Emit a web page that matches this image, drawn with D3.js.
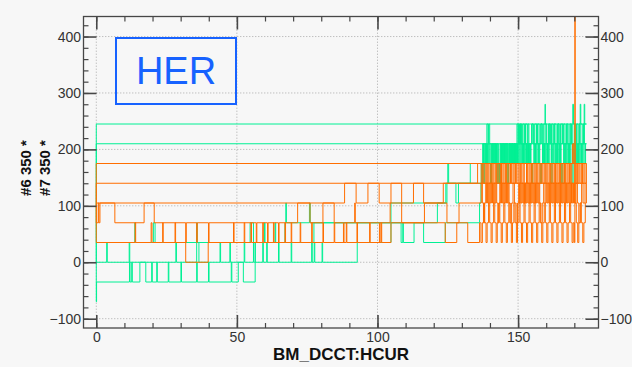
<!DOCTYPE html>
<html>
<head>
<meta charset="utf-8">
<script src="https://cdn.jsdelivr.net/npm/d3@7"></script>
<style>
  html, body { margin: 0; padding: 0; background: #f7f7f7; }
  svg { display: block; }
</style>
</head>
<body>
<svg id="chart" width="632" height="367"></svg>
<script>
// ---- Data: beam current (BM_DCCT:HCUR) vs. quantised loss counts, one array per fill ----
// Each fill is a time-ordered list of [HCUR, value] samples; fills follow one another,
// so the current drops back to zero between them.

// #7 350 * (green)
const greenFill1 = [
  [0,35],[13.7,70],[13.9,35],[20.3,70],[20.9,35],[35.7,70],[35.9,35],[54.7,70],[55.9,35],
  [59.8,70],[60.0,35],[63.6,70],[63.8,35],[67.1,70],[67.4,105],[67.6,70],[75.8,105],[76.1,70],
  [104.8,105],[124.3,140],[125.0,175],[125.3,140],[127.9,105],[128.8,140],[133.0,175],
  [137.7,210],[138.2,175],[138.9,245],[139.3,210],[140.0,175],[140.5,210],[141.0,175],[141.4,210],
  [141.9,175],[142.4,210],[142.6,140],[143.2,175],[143.7,210],[144.2,175],[144.7,210],[145.2,175],
  [145.7,210],[146.2,175],[146.7,210],[147.2,175],[147.7,210],[148.2,175],[148.6,210],[149.0,175],
  [149.3,210],[149.6,245],[150.1,210],[150.6,245],[151.1,210],[151.7,245],[152.2,210],[152.7,245],
  [153.3,210],[153.8,175],[154.3,210],[154.8,245],[155.4,210],[155.9,245],[156.5,210],[157.0,245],
  [157.5,210],[158.1,245],[158.6,210],[159.1,245],[159.6,280],[159.7,245],[160.2,210],[160.8,245],
  [161.3,210],[161.9,245],[162.4,210],[162.9,245],[163.5,210],[164.0,245],[164.6,210],[165.1,245],
  [165.7,210],[166.2,245],[166.7,210],[167.3,245],[167.8,210],[168.4,245],[168.9,210],[169.45,280],
  [169.7,245],[170.2,210],[170.8,245],[171.3,210],[171.8,245],[172.1,280],[172.3,245],[172.8,210],
  [173.3,245],[173.5,280],[173.7,245],[174.3,245]
];
const greenFill2 = [
  [0,-70],[0.1,-35],[11.8,0],[12.0,-35],[12.6,0],[12.8,-35],[15.5,0],[17.6,-35],[19.7,0],[19.9,-35],
  [21.5,0],[21.7,-35],[25.6,0],[25.8,-35],[30.1,0],[30.3,-35],[35.7,0],[35.9,-35],[39.9,0],[40.1,-35],
  [48.0,0],[48.2,-35],[50.5,0],[52.3,-35],[56.5,0],[59.2,35],[59.4,0],[60.6,35],[60.8,0],[64.8,35],
  [65.0,0],[69.3,35],[69.5,0],[76.6,35],[76.8,0],[77.5,35],[77.7,0],[80.3,35],[80.5,0],[92.8,35],
  [104.8,70],[108.4,35],[109.0,70],[109.2,35],[113.0,70],[116.4,35],[124.1,70],[136.3,105],
  [136.8,140],[137.2,175],[137.6,140],[138.1,175],[138.5,210],[138.9,175],[139.4,210],[139.7,175],
  [140.2,140],[140.6,175],[141.0,210],[141.5,175],[141.9,210],[142.3,175],[142.8,140],[143.2,175],
  [143.6,210],[144.1,175],[144.5,210],[144.9,175],[145.4,210],[145.8,175],[146.3,140],[146.6,175],
  [147.0,210],[147.4,175],[147.9,210],[148.3,175],[148.6,210],[148.9,175],[149.2,210],[149.5,175],
  [149.8,210],[150.1,175],[150.4,210],[150.7,175],[151.0,210],[151.3,175],[151.6,210],[151.9,175],
  [152.2,210],[152.5,175],[152.8,210],[153.1,175],[153.4,210],[153.7,175],[154.0,210],[154.4,175],
  [154.8,140],[155.2,175],[155.6,210],[156.0,175],[156.4,210],[156.7,175],[157.1,210],[157.5,175],
  [157.9,140],[158.3,175],[158.7,210],[159.0,175],[159.4,210],[159.8,175],[160.2,210],[160.5,175],
  [160.9,210],[161.3,175],[161.7,140],[162.1,175],[162.5,210],[162.8,175],[163.2,210],[163.6,175],
  [164.0,210],[164.3,175],[164.7,210],[165.1,175],[165.5,140],[165.9,175],[166.2,210],[166.6,175],
  [167.0,210],[167.3,175],[167.7,210],[168.1,175],[168.5,210],[168.8,175],[169.2,140],[169.6,175],
  [170.0,210],[170.4,175],[170.7,210],[171.1,175],[171.5,210],[171.9,175],[172.3,210],[172.6,175],
  [173.0,210],[173.4,175],[173.8,210],[174.3,210]
];
const greenFill3 = [
  [0,0],[3.7,35],[3.9,0],[11.7,35],[11.9,0],[28.3,35],[28.5,0],[35.7,35],[36.5,0],[44.0,35],[44.2,0],
  [47.5,35],[47.7,0],[52.6,35],[52.8,0],[55.9,35],[56.1,0],[56.6,35],[77.4,70],[121.3,105],
  [124.7,140],[136.9,175],[137.4,210],[137.9,175],[138.3,210],[138.7,175],[139.1,210],[139.5,245],
  [139.9,210],[140.4,175],[140.8,210],[141.2,175],[141.7,210],[142.1,175],[142.5,210],[143.0,175],
  [143.4,140],[143.8,175],[144.3,210],[144.7,175],[145.1,210],[145.6,175],[146.0,210],[146.4,175],
  [146.8,210],[147.2,175],[147.6,210],[148.0,175],[148.45,210],[148.75,175],[149.05,210],[149.35,175],
  [149.65,210],[149.95,245],[150.25,210],[150.55,245],[150.85,210],[151.15,245],[151.45,210],
  [151.75,175],[152.05,210],[152.35,245],[152.65,210],[152.95,175],[153.25,210],[153.55,245],
  [153.85,210],[154.2,175],[154.6,210],[155.0,245],[155.4,210],[155.8,175],[156.2,210],[156.55,245],
  [156.9,210],[157.3,175],[157.7,210],[158.1,245],[158.5,210],[158.85,175],[159.2,210],[159.6,245],
  [160.0,210],[160.4,175],[160.7,210],[161.1,245],[161.5,210],[161.9,175],[162.3,210],[162.7,245],
  [163.0,210],[163.4,175],[163.8,210],[164.2,245],[164.5,210],[164.9,175],[165.3,210],[165.7,245],
  [166.0,210],[166.4,175],[166.8,210],[167.2,245],[167.5,210],[167.9,175],[168.3,210],[168.7,245],
  [169.0,210],[169.4,175],[169.8,210],[170.2,245],[170.6,210],[170.9,175],[171.3,210],[171.7,245],
  [172.1,210],[172.5,175],[172.8,210],[173.2,245],[173.6,210],[174.0,175],[174.3,175]
];

// #6 350 * (orange)
const orangeFill1 = [
  [0,105],[88.3,140],[92.4,105],[96.6,140],[100.6,105],[104.8,140],[108.6,105],[112.8,140],
  [116.4,105],[123.4,140],[135.6,175],[136.9,140],[137.4,175],[137.8,140],[138.3,175],[138.7,140],
  [139.2,175],[139.6,140],[140.1,175],[140.5,140],[141.0,175],[141.4,140],[141.9,175],[142.3,140],
  [142.8,175],[143.2,140],[143.7,175],[144.1,140],[144.6,175],[145.0,140],[145.5,175],[145.9,140],
  [146.4,175],[146.8,140],[147.3,175],[147.7,140],[148.2,175],[148.6,140],[149.1,175],[149.5,140],
  [150.0,175],[150.4,140],[150.9,175],[151.3,140],[151.8,175],[152.2,105],[152.5,140],[153.0,175],
  [153.4,140],[153.9,175],[154.3,140],[154.8,175],[155.2,140],[155.7,175],[156.1,140],[156.6,175],
  [157.0,140],[157.5,175],[157.9,140],[158.4,175],[158.8,140],[159.3,175],[159.7,140],[160.2,175],
  [160.6,140],[161.1,175],[161.5,140],[162.0,175],[162.4,140],[162.9,175],[163.3,140],[163.8,175],
  [164.2,140],[164.7,175],[165.1,140],[165.6,175],[166.0,140],[166.5,175],[166.9,140],[167.4,175],
  [167.8,140],[168.3,175],[168.7,140],[169.1,175],[169.4,210],[169.8,175],[170.2,140],[170.7,175],
  [171.1,140],[171.6,175],[172.0,140],[172.5,175],[172.9,140],[173.4,175],[173.8,140],[174.3,175]
];
const orangeFill2 = [
  [0,35],[13.8,70],[14.0,35],[19.5,70],[19.8,35],[23.6,70],[23.8,35],[28.0,70],[28.2,35],[31.8,0],
  [39.8,35],[48.8,70],[49.0,35],[52.6,70],[52.8,35],[55.0,70],[55.2,35],[59.2,70],[59.4,35],
  [63.0,70],[63.2,35],[67.1,70],[67.3,35],[69.3,70],[69.5,35],[72.5,70],[72.7,35],[76.6,70],
  [76.8,35],[80.6,70],[80.8,35],[84.6,70],[84.8,35],[88.9,70],[89.1,35],[92.7,70],[92.9,35],
  [97.2,70],[97.4,35],[101.3,70],[101.5,35],[104.8,70],[124.1,35],[128.2,70],[132.1,35],[136.3,70],
  [136.8,35],[137.3,70],[137.7,105],[138.1,70],[138.6,35],[139.0,70],[139.5,105],[139.9,70],
  [140.4,35],[140.8,70],[141.3,105],[141.7,70],[142.2,35],[142.6,70],[143.1,105],[143.5,70],
  [144.0,35],[144.4,70],[144.9,105],[145.3,70],[145.8,35],[146.2,70],[146.7,105],[147.1,70],
  [147.6,35],[148.0,70],[148.5,105],[148.9,70],[149.4,35],[149.8,70],[150.3,105],[150.7,70],
  [151.2,35],[151.6,70],[152.1,105],[152.5,70],[153.0,35],[153.4,70],[153.9,105],[154.3,70],
  [154.8,35],[155.2,70],[155.7,105],[156.1,70],[156.6,35],[157.0,70],[157.5,105],[157.9,70],
  [158.4,35],[158.8,70],[159.3,105],[159.7,70],[160.2,35],[160.6,70],[161.1,105],[161.5,70],
  [162.0,35],[162.4,70],[162.9,105],[163.3,70],[163.8,35],[164.2,70],[164.7,105],[165.1,70],
  [165.6,35],[166.0,70],[166.5,105],[166.9,70],[167.4,35],[167.8,70],[168.3,105],[168.7,70],
  [169.2,35],[169.6,70],[170.0,35],[170.2,440],[170.3,105],[170.7,70],[171.2,35],[171.6,70],
  [172.1,105],[172.5,70],[173.0,35],[173.4,70],[173.9,105],[174.3,140]
];
const orangeFill3 = [
  [0,70],[0.7,105],[0.9,70],[1.3,105],[6.6,70],[17.0,105],[20.6,70],[31.8,35],[32.0,70],
  [35.7,35],[35.9,70],[39.9,35],[40.1,70],[56.9,35],[57.1,70],[60.9,35],[61.1,70],[64.8,35],
  [65.0,70],[71.6,105],[76.0,70],[80.6,105],[84.6,70],[87.9,35],[88.1,70],[91.9,105],[92.1,70],
  [100.7,35],[100.9,70],[104.5,105],[108.6,70],[116.7,105],[124.7,70],[129.0,105],[136.9,140],
  [137.3,105],[137.7,70],[138.1,105],[138.5,140],[138.8,105],[139.1,140],[139.4,105],[139.7,140],
  [140.0,105],[140.3,140],[140.6,105],[140.9,140],[141.2,105],[141.5,140],[141.8,105],[142.1,140],
  [142.4,105],[142.8,70],[143.2,105],[143.5,140],[143.8,105],[144.1,140],[144.4,105],[144.7,140],
  [145.0,105],[145.3,140],[145.6,105],[145.9,140],[146.2,105],[146.5,140],[146.8,105],[147.2,70],
  [147.7,105],[148.2,140],[148.7,105],[149.3,70],[149.8,105],[150.2,140],[150.5,105],[150.8,140],
  [151.1,105],[151.4,140],[151.7,105],[152.0,140],[152.3,105],[152.6,140],[152.9,105],[153.2,140],
  [153.5,105],[153.8,140],[154.1,105],[154.4,140],[154.7,105],[155.0,140],[155.3,105],[155.6,140],
  [155.9,105],[156.2,140],[156.5,105],[156.8,140],[157.1,105],[157.4,140],[157.7,105],[158.1,70],
  [158.6,105],[159.1,140],[159.6,105],[160.0,140],[160.3,105],[160.6,140],[160.9,105],[161.2,140],
  [161.5,105],[161.8,140],[162.1,105],[162.4,140],[162.7,105],[163.0,140],[163.3,105],[163.6,140],
  [163.9,105],[164.2,140],[164.5,105],[164.8,140],[165.1,105],[165.4,140],[165.7,105],[166.0,140],
  [166.3,105],[166.6,140],[166.9,105],[167.2,140],[167.5,105],[167.8,140],[168.1,105],[168.4,140],
  [168.7,105],[169.0,140],[169.3,105],[169.7,140],[170.1,105],[170.6,140],[171.1,105],[171.6,70],
  [172.1,105],[172.6,140],[173.1,105],[173.8,140]
];

const greenSeries  = [greenFill1, greenFill2, greenFill3];
const orangeSeries = [orangeFill1, orangeFill2, orangeFill3];

// Axis ticks and labels
const xMajorTicks = [0, 50, 100, 150];
const yMajorTicks = [-100, 0, 100, 200, 300, 400];
const xTitle = "BM_DCCT:HCUR";
const yTitleLines = ["#6 350 *", "#7 350 *"];
const tagText = "HER";

// ---- Layout ----
const svg = d3.select("#chart");
const plot = { left: 83.5, right: 598.5, top: 16.5, bottom: 328 };
const GREEN = "#00f094", ORANGE = "#ff6e00", BLUE = "#1762ff";
const AXIS = "#474747";
const tickFont = "'Liberation Sans', Arial, Helvetica, sans-serif";

const x = d3.scaleLinear().domain([-4.55, 178.6]).range([plot.left, plot.right]);
const y = d3.scaleLinear().domain([-116.5, 435.5]).range([plot.bottom, plot.top]);

svg.append("rect").attr("width", 632).attr("height", 367).attr("fill", "#f7f7f7");

svg.append("defs").append("clipPath").attr("id", "plotClip")
  .append("rect")
  .attr("x", plot.left).attr("y", plot.top)
  .attr("width", plot.right - plot.left).attr("height", plot.bottom - plot.top);

// Dotted grid, spanning the current range of the data horizontally
const allPoints = greenSeries.concat(orangeSeries).flat();
const xDataMax = d3.max(allPoints, d => d[0]);
const grid = svg.append("g").attr("stroke", "#a9a9a9").attr("stroke-width", 1)
  .attr("stroke-dasharray", "1,2");
grid.selectAll("line.h").data(yMajorTicks).join("line").attr("class", "h")
  .attr("x1", x(0)).attr("x2", x(xDataMax))
  .attr("y1", d => y(d)).attr("y2", d => y(d));
grid.selectAll("line.v").data(xMajorTicks).join("line").attr("class", "v")
  .attr("x1", d => x(d)).attr("x2", d => x(d))
  .attr("y1", y(yMajorTicks[0])).attr("y2", plot.top);

// Step traces
const stepLine = d3.line().x(d => x(d[0])).y(d => y(d[1])).curve(d3.curveStepAfter);
const traces = svg.append("g").attr("clip-path", "url(#plotClip)").attr("fill", "none");
traces.append("path").datum(greenSeries.flat())
  .attr("d", stepLine).attr("stroke", GREEN).attr("stroke-width", 1);
traces.append("path").datum(orangeSeries.flat())
  .attr("d", stepLine).attr("stroke", ORANGE).attr("stroke-width", 1);

// Axes: ticks point into the plot on all four sides
function styleAxis(g, major) {
  g.select(".domain").remove();
  g.selectAll("line").attr("stroke", AXIS).attr("stroke-width", major ? 1.6 : 1.2);
  g.selectAll("text").attr("fill", "#333").style("font-family", tickFont).style("font-size", "14px");
}
const yMinor = d3.range(-100, 436, 20);
const xMinor = d3.range(0, 179, 10);

svg.append("g").attr("transform", `translate(${plot.left},0)`)
  .call(d3.axisLeft(y).tickValues(yMinor).tickSize(-5).tickFormat("")).call(g => styleAxis(g, false));
svg.append("g").attr("transform", `translate(${plot.left},0)`)
  .call(d3.axisLeft(y).tickValues(yMajorTicks).tickSize(-13).tickPadding(2.5).tickFormat(d3.format("d")))
  .call(g => styleAxis(g, true));

svg.append("g").attr("transform", `translate(${plot.right},0)`)
  .call(d3.axisRight(y).tickValues(yMinor).tickSize(-5).tickFormat("")).call(g => styleAxis(g, false));
svg.append("g").attr("transform", `translate(${plot.right},0)`)
  .call(d3.axisRight(y).tickValues(yMajorTicks).tickSize(-13).tickPadding(2).tickFormat(d3.format("d")))
  .call(g => styleAxis(g, true));

svg.append("g").attr("transform", `translate(0,${plot.top})`)
  .call(d3.axisTop(x).tickValues(xMinor).tickSize(-5).tickFormat("")).call(g => styleAxis(g, false));
svg.append("g").attr("transform", `translate(0,${plot.top})`)
  .call(d3.axisTop(x).tickValues(xMajorTicks).tickSize(-13).tickFormat("")).call(g => styleAxis(g, true));

svg.append("g").attr("transform", `translate(0,${plot.bottom})`)
  .call(d3.axisBottom(x).tickValues(xMinor).tickSize(-5).tickFormat("")).call(g => styleAxis(g, false));
svg.append("g").attr("transform", `translate(0,${plot.bottom})`)
  .call(d3.axisBottom(x).tickValues(xMajorTicks).tickSize(-13).tickPadding(4).tickFormat(d3.format("d")))
  .call(g => styleAxis(g, true));

// Frame
svg.append("rect")
  .attr("x", plot.left).attr("y", plot.top)
  .attr("width", plot.right - plot.left).attr("height", plot.bottom - plot.top)
  .attr("fill", "none").attr("stroke", AXIS).attr("stroke-width", 1.3);

// Axis titles
svg.append("text")
  .attr("x", (plot.left + plot.right) / 2).attr("y", 360)
  .attr("text-anchor", "middle")
  .style("font-family", tickFont).style("font-size", "17px").style("font-weight", "bold")
  .attr("fill", "#111").text(xTitle);

svg.selectAll("text.ytitle").data(yTitleLines).join("text").attr("class", "ytitle")
  .attr("transform", (d, i) => `translate(${31 + i * 18.5},168) rotate(-90)`)
  .attr("text-anchor", "middle")
  .style("font-family", tickFont).style("font-size", "15px").style("font-weight", "bold")
  .attr("fill", "#111").text(d => d);

// Ring tag
const tag = svg.append("g").attr("transform", `translate(${plot.left + 32.5},38)`);
tag.append("rect").attr("width", 120).attr("height", 66)
  .attr("fill", "none").attr("stroke", BLUE).attr("stroke-width", 2);
tag.append("text").attr("x", 60).attr("y", 45.5).attr("text-anchor", "middle")
  .style("font-family", tickFont).style("font-size", "38px")
  .attr("fill", BLUE).text(tagText);
</script>
</body>
</html>
